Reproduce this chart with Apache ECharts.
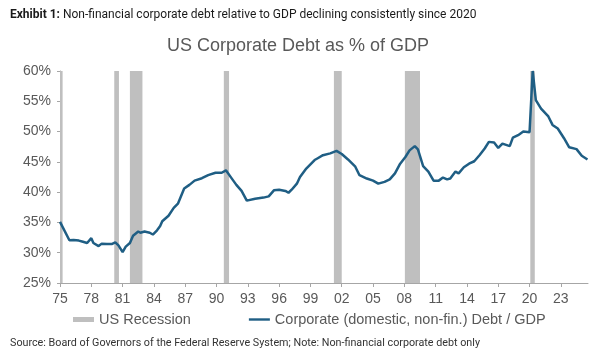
<!DOCTYPE html>
<html>
<head>
<meta charset="utf-8">
<script src="https://cdn.jsdelivr.net/npm/echarts@6/dist/echarts.min.js"></script>
<style>html,body{margin:0;padding:0;background:#fff}#c{width:600px;height:357px}</style>
</head>
<body>
<div id="c"></div>
<script>
const BASE_YEAR = 1975;
const tickYears = [1975,1978,1981,1984,1987,1990,1993,1996,1999,2002,2005,2008,2011,2014,2017,2020,2023];
const yTicks = [25,30,35,40,45,50,55,60];
const debtYears = [
 1975.0,1975.9,1976.3,1976.8,1977.2,1977.6,1978.0,1978.2,1978.7,1979.0,1979.5,1980.0,1980.3,1980.6,1981.0,1981.3,1981.7,1982.0,1982.5,1982.7,1983.1,1983.6,1983.9,1984.3,1984.6,1984.8,1985.4,1985.9,1986.3,1986.9,1987.4,1987.9,1988.6,1989.2,1989.9,1990.5,1990.9,1991.4,1991.9,1992.4,1992.9,1993.7,1994.5,1995.0,1995.5,1996.0,1996.6,1996.9,1997.2,1997.7,1998.0,
 1998.6,1999.4,1999.7,2000.2,2000.9,2001.5,2002.0,2002.6,2003.3,2003.7,2004.4,2005.0,2005.5,2006.1,2006.6,2007.1,2007.6,2008.1,2008.5,2009.0,2009.3,2009.8,2010.3,2010.8,2011.3,2011.7,2012.1,2012.4,2012.9,2013.2,2013.7,2014.2,2014.7,2015.2,2015.7,2016.1,2016.6,2017.0,2017.4,2018.1,2018.4,2018.9,2019.4,2020.0,2020.3,2020.6,2021.1,2021.8,2022.2,2022.7,2023.3,2023.8,2024.5,2025.0,2025.55
];
const debtValues = [
 35.1,32.05,32.1,32.0,31.8,31.6,32.4,31.6,31.1,31.5,31.45,31.45,31.7,31.2,30.1,31.0,31.6,32.8,33.5,33.3,33.5,33.3,33.0,33.7,34.4,35.2,36.1,37.4,38.1,40.6,41.2,41.9,42.3,42.8,43.2,43.2,43.6,42.4,41.2,40.2,38.6,38.9,39.1,39.3,40.3,40.4,40.2,39.9,40.4,41.4,42.5,
 43.9,45.3,45.6,46.1,46.4,46.8,46.3,45.4,44.2,42.8,42.25,41.9,41.4,41.7,42.1,43.1,44.7,45.8,46.9,47.6,47.05,44.3,43.4,41.9,41.9,42.4,42.1,42.25,43.4,43.1,44.1,44.7,45.1,46.1,47.2,48.3,48.2,47.3,48.0,47.6,49.0,49.4,50.0,49.9,60.0,55.2,53.8,52.5,51.1,50.5,48.9,47.4,47.1,46.0,45.4
];
const recessionStarts = [1975.0,1980.2,1981.7,1990.7,2001.25,2008.05,2020.07];
const recessionEnds   = [1975.25,1980.65,1982.9,1991.2,2002.0,2009.5,2020.5];

const off = y => y - BASE_YEAR;
const lineData = debtYears.map((y,i)=>[off(y), debtValues[i]]);
const areas = recessionStarts.map((s,i)=>[{xAxis: off(s)},{xAxis: off(recessionEnds[i])}]);

const chart = echarts.init(document.getElementById('c'), null, {renderer:'canvas'});
const F = 'Liberation Sans, Arial, sans-serif';
chart.setOption({
  animation:false,
  backgroundColor:'#fff',
  title:[
    {text:'{b|Exhibit 1:} Non-financial corporate debt relative to GDP declining consistently since 2020',
     left:10, top:9, padding:0,
     textStyle:{fontFamily:'Roboto', fontSize:12, fontWeight:'normal', color:'#1a1a1a',
       rich:{b:{fontFamily:'Roboto', fontSize:12, fontWeight:'bold', color:'#1a1a1a'}}}},
    {text:'US Corporate Debt as % of GDP', left:167, top:37, padding:0,
     textStyle:{fontFamily:F, fontSize:18, fontWeight:'normal', color:'#595959'}},
    {text:'Source: Board of Governors of the Federal Reserve System; Note: Non-financial corporate debt only',
     left:10, top:338, padding:0,
     textStyle:{fontFamily:'Roboto', fontSize:10.75, fontWeight:'normal', color:'#333'}}
  ],
  grid:{left:60, right:12, top:71, bottom:74, containLabel:false},
  legend:{
    left:73, top:312, padding:0, itemWidth:21, itemHeight:5, itemGap:58,
    textStyle:{fontFamily:F, fontSize:14.5, color:'#595959'},
    data:[
      {name:'US Recession', icon:'rect', itemStyle:{color:'#bfbfbf'}},
      {name:'Corporate (domestic, non-fin.) Debt / GDP', icon:'path://M0,0H21V2.4H0Z', itemStyle:{color:'#1f5e84'}}
    ]
  },
  xAxis:{
    type:'value', min:0, max:off(2025.6), interval:3,
    axisLine:{show:true, lineStyle:{color:'#a6a6a6', width:1}},
    axisTick:{show:true, length:4, lineStyle:{color:'#a6a6a6'}, customValues: tickYears.map(off)},
    axisLabel:{fontFamily:F, fontSize:14, color:'#595959', margin:9,
      customValues: tickYears.map(off),
      formatter:v=>String(Math.round(v+BASE_YEAR)%100).padStart(2,'0')},
    splitLine:{show:false}
  },
  yAxis:{
    type:'value', min:25, max:60, interval:5,
    axisLine:{show:true, lineStyle:{color:'#a6a6a6', width:1}},
    axisTick:{show:true, length:3, lineStyle:{color:'#a6a6a6'}},
    axisLabel:{fontFamily:F, fontSize:14, color:'#595959', margin:9, formatter:'{value}%'},
    splitLine:{show:false}
  },
  series:[
    {name:'US Recession', type:'line', data:[], color:'#bfbfbf', silent:true,
     markArea:{silent:true, itemStyle:{color:'#bfbfbf', opacity:1}, data:areas}},
    {name:'Corporate (domestic, non-fin.) Debt / GDP', type:'line', data:lineData, color:'#1f5e84',
     showSymbol:false, symbol:'none', lineStyle:{width:2.5, color:'#1f5e84'}, z:5, clip:true}
  ]
});
</script>
</body>
</html>
